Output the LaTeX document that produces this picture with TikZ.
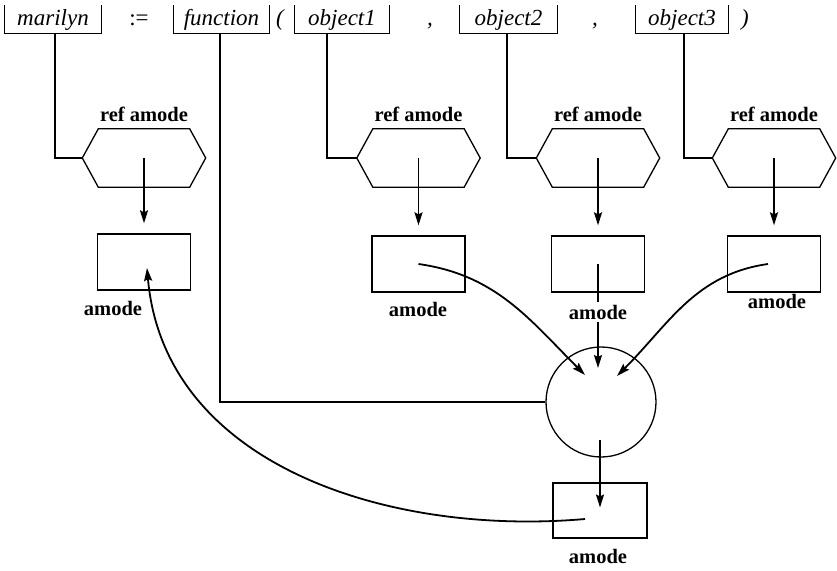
\documentclass[tikz,border=0pt]{standalone}
\usepackage{fontspec}
\setmainfont{Liberation Serif}
\usetikzlibrary{arrows.meta}
\newcommand\myhexdraw[1]{\draw[line,line join=miter] (#1.west) -- ([xshift=16pt]#1.north west) -- ([xshift=-16pt]#1.north east) -- (#1.east) -- ([xshift=-16pt]#1.south east) -- ([xshift=16pt]#1.south west) -- cycle;}
\newcommand\mybracket[1]{\draw[line] (#1.north west) -- (#1.south west) -- (#1.south east) -- (#1.north east);}
\begin{document}
\begin{tikzpicture}[x=1pt,y=1pt,
  line/.style={line width=1.3pt},
  arr/.style={line width=1.8pt,-{Stealth[length=13pt,width=8pt,inset=2pt]}},
  itext/.style={inner sep=0pt,font=\fontsize{23}{27}\selectfont\itshape,text height=16pt,text depth=5pt},
  brk/.style={itext,minimum height=28pt},
  lbl/.style={inner sep=1pt,font=\fontsize{20.5}{24}\selectfont\bfseries},
  hexn/.style={minimum width=123pt,minimum height=58pt,inner sep=0pt},
  box/.style={draw,line width=1.3pt,minimum width=93pt,minimum height=56pt,inner sep=0pt},
]
\useasboundingbox (0,0) rectangle (837,-570);

% top line
\node[brk,minimum width=96pt] (bM) at (53,-19.5) {marilyn};
\node[itext,font=\fontsize{23}{27}\selectfont] (as) at (139,-19.5) {:=};
\node[brk,minimum width=95pt] (bF) at (221.5,-19.5) {function};
\node[itext] (lp) at (280,-19.5) {(};
\node[brk,minimum width=94pt] (bO1) at (342,-19.5) {object1};
\node[itext] (cm1) at (430,-19.5) {,};
\node[brk,minimum width=97pt] (bO2) at (508.5,-19.5) {object2};
\node[itext] (cm2) at (595,-19.5) {,};
\node[brk,minimum width=92pt] (bO3) at (682,-19.5) {object3};
\node[itext] (rp) at (745,-19.5) {)};
\mybracket{bM}
\mybracket{bF}
\mybracket{bO1}
\mybracket{bO2}
\mybracket{bO3}

% hexagons
\node[hexn] (h1) at (144,-158) {};
\node[hexn] (h2) at (418.5,-158) {};
\node[hexn] (h3) at (598,-158) {};
\node[hexn] (h4) at (774,-158) {};
\myhexdraw{h1}
\myhexdraw{h2}
\myhexdraw{h3}
\myhexdraw{h4}
\node[lbl,anchor=base] (r1) at ([yshift=7pt]h1.north) {ref amode};
\node[lbl,anchor=base] (r2) at ([yshift=7pt]h2.north) {ref amode};
\node[lbl,anchor=base] (r3) at ([yshift=7pt]h3.north) {ref amode};
\node[lbl,anchor=base] (r4) at ([yshift=7pt]h4.north) {ref amode};

% boxes
\node[box] (b1) at (144,-262) {};
\node[box] (b2) at (418.5,-264) {};
\node[box] (b3) at (598,-264) {};
\node[box] (b4) at (774,-264) {};
\node[box,minimum width=94pt,minimum height=55pt] (b5) at (600,-510.5) {};

% circle
\node[draw,circle,line width=1.3pt,minimum size=110pt,inner sep=0pt] (c) at (601,-402) {};
\coordinate (t1) at ([shift={(-16,27)}]c.center);
\coordinate (t2) at ([shift={(-3,34)}]c.center);
\coordinate (t3) at ([shift={(16,26)}]c.center);

% connectors from the text
\draw[line] ([xshift=2pt]bM.south) |- (h1.west);
\draw[line] ([xshift=-1.5pt]bF.south) |- (c.west);
\draw[line] ([xshift=-15pt]bO1.south) |- (h2.west);
\draw[line] ([xshift=-1.5pt]bO2.south) |- (h3.west);
\draw[line] ([xshift=2pt]bO3.south) |- (h4.west);

% arrows
\draw[arr] (h1.center) -- ([yshift=10pt]b1.north);
\draw[arr] (h2.center) -- ([yshift=10pt]b2.north);
\draw[arr] (h3.center) -- ([yshift=10pt]b3.north);
\draw[arr] (h4.center) -- ([yshift=10pt]b4.north);
\draw[arr] (b2.center) to[out=-8,in=135] (t1);
\draw[arr] (b3.center) -- (t2);
\draw[arr] ([xshift=-6pt]b4.center) to[out=188,in=45] (t3);
\draw[arr] ([shift={(-1,-38)}]c.center) -- ([yshift=3pt]b5.center);
\draw[arr] ([shift={(-15,-8.5)}]b5.center) to[out=185,in=-85] ([shift={(3,-6)}]b1.center);

% amode labels
\node[lbl,anchor=base] (a1) at (113,-315) {amode};
\node[lbl,anchor=base] (a2) at (418,-316) {amode};
\node[lbl,anchor=base,fill=white,inner sep=3pt] (a3) at (598,-319) {amode};
\node[lbl,anchor=base] (a4) at (777,-308) {amode};
\node[lbl,anchor=base] (a5) at (598,-563) {amode};
\end{tikzpicture}
\end{document}
